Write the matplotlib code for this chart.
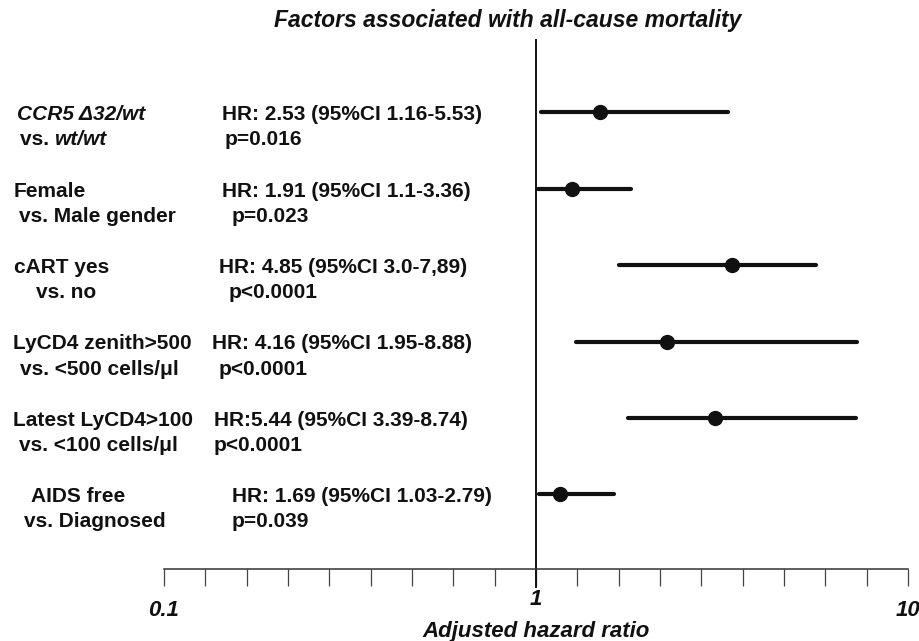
import numpy as np
import matplotlib
matplotlib.use("Agg")
import matplotlib.pyplot as plt
import matplotlib.transforms as mtransforms

plt.rcParams['font.family'] = ['Liberation Sans', 'DejaVu Sans']

# hazard ratios as drawn (point estimate, lower, upper) - top to bottom
hr_point = [1.49, 1.25, 3.37, 2.25, 3.03, 1.16]
hr_low = [1.03, 1.01, 1.67, 1.28, 1.77, 1.02]
hr_high = [3.28, 1.80, 5.66, 7.29, 7.23, 1.62]

label_top = ['CCR5 \u039432/wt', 'Female', 'cART yes', 'LyCD4 zenith>500',
             'Latest LyCD4>100', 'AIDS free']
label_bottom = ['vs. ', 'vs. Male gender', 'vs. no', 'vs. <500 cells/\u03bcl',
                'vs. <100 cells/\u03bcl', 'vs. Diagnosed']
hr_text = ['HR: 2.53 (95%CI 1.16-5.53)', 'HR: 1.91 (95%CI 1.1-3.36)',
           'HR: 4.85 (95%CI 3.0-7,89)', 'HR: 4.16 (95%CI 1.95-8.88)',
           'HR:5.44 (95%CI 3.39-8.74)', 'HR: 1.69 (95%CI 1.03-2.79)']
p_text = ['p=0.016', 'p=0.023', 'p<0.0001', 'p<0.0001', 'p<0.0001', 'p=0.039']

tick_labels = ['0.1', '1', '10']

# x pixel positions of the text columns
x_top = [17, 14, 14, 13, 13, 31]
x_bot = [20, 19, 36, 20, 19, 24]
x_hr = [222, 222, 219, 212, 214, 232]
x_p = [225, 232, 229, 219, 214, 232]

W, H = 920, 641
fig = plt.figure(figsize=(W / 100, H / 100), dpi=100)
ax = fig.add_axes([164 / W, (H - 569.3) / H, 744 / W, 529.3 / H])

rows = np.arange(len(hr_point))
ax.set_xscale('log')
ax.set_xlim(0.1, 10)
ax.set_ylim(5.98, -0.946)

ink = '#111111'
ax.hlines(rows, hr_low, hr_high, color=ink, lw=3.0, capstyle='round', zorder=3)
ax.plot(hr_point, rows, 'o', color=ink, ms=10, zorder=4)

ax.axvline(1, ymin=-17.4 / 529.3, ymax=1, color=ink, lw=1.4, clip_on=False)

for s in ['top', 'right', 'left']:
    ax.spines[s].set_visible(False)
ax.spines['bottom'].set_color('#333333')
ax.spines['bottom'].set_linewidth(1.1)
ax.set_yticks([])
ax.set_xticks(10 ** np.linspace(-1, 1, 19))
ax.xaxis.set_minor_locator(matplotlib.ticker.NullLocator())
ax.set_xticklabels([])
ax.tick_params(axis='x', direction='out', length=12.5, width=0.9, color='#444444')

tick_vals = [0.1, 1, 10]
tick_y = [-0.077, -0.058, -0.077]
for v, t, yy in zip(tick_vals, tick_labels, tick_y):
    ax.text(v, yy, t, transform=ax.get_xaxis_transform(), ha='center', va='center',
            fontsize=16, fontweight='bold', fontstyle='italic', color=ink)
ax.text(1, -0.117, 'Adjusted hazard ratio', transform=ax.get_xaxis_transform(),
        ha='center', va='center', fontsize=16, fontweight='bold', fontstyle='italic', color=ink)

fig.text(508 / W, 1 - 21 / H, 'Factors associated with all-cause mortality', ha='center',
         va='center', fontsize=16.5, fontweight='bold', fontstyle='italic', color=ink)

trans = mtransforms.blended_transform_factory(fig.transFigure, ax.transData)
kw = dict(fontsize=15, fontweight='bold', color=ink, va='center', transform=trans)
for i in rows:
    top_style = 'italic' if i == 0 else 'normal'
    ax.text(x_top[i] / W, i + 0.03, label_top[i], fontstyle=top_style, **kw)
    t2 = ax.text(x_bot[i] / W, i + 0.36, label_bottom[i], **kw)
    ax.text(x_hr[i] / W, i + 0.03, hr_text[i], **kw)
    ax.text(x_p[i] / W, i + 0.36, p_text[i], **kw)
    if i == 0:
        r = fig.canvas.get_renderer()
        bb = t2.get_window_extent(renderer=r)
        ax.text(bb.x1 / W, i + 0.36, 'wt/wt', fontstyle='italic', **kw)

fig.savefig('out.png', dpi=100)
